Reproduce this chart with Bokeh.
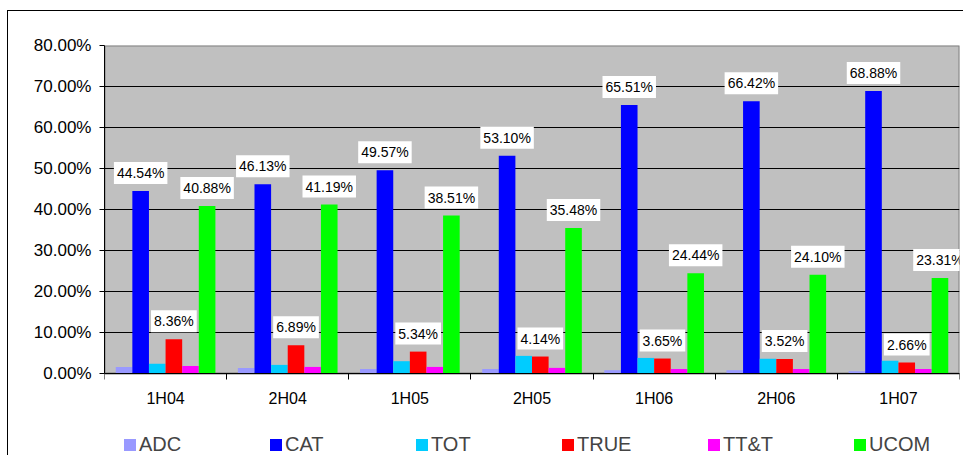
from bokeh.plotting import figure
from bokeh.models import (FixedTicker, PrintfTickFormatter, Legend, LegendItem,
                          ColumnDataSource, Range1d, BoxAnnotation)
from bokeh.transform import dodge
from bokeh.core.properties import value
from bokeh.embed import file_html
from bokeh.resources import INLINE

periods = ["1H04", "2H04", "1H05", "2H05", "1H06", "2H06", "1H07"]
adc = [1.60, 1.37, 1.10, 1.10, 0.80, 0.80, 0.55]
cat = [44.54, 46.13, 49.57, 53.10, 65.51, 66.42, 68.88]
tot = [2.35, 2.10, 3.00, 4.30, 3.80, 3.60, 3.10]
true_ = [8.36, 6.89, 5.34, 4.14, 3.65, 3.52, 2.66]
ttt = [1.85, 1.60, 1.60, 1.37, 1.10, 1.10, 1.10]
ucom = [40.88, 41.19, 38.51, 35.48, 24.44, 24.10, 23.31]
series_names = ["ADC", "CAT", "TOT", "TRUE", "TT&T", "UCOM"]
series_values = [adc, cat, tot, true_, ttt, ucom]
colors = ["#9999FF", "#0000FF", "#00CCFF", "#FF0000", "#FF00FF", "#00FF00"]
labelled = ["CAT", "TRUE", "UCOM"]
y_ticks = [0, 10, 20, 30, 40, 50, 60, 70, 80]

FONT = "Liberation Sans"
W, H = 963, 455
Y_LOW = -20  # extra room below the zero line for category labels and legend

n = len(periods)
centers = [i + 0.5 for i in range(n)]
bounds = [float(i) for i in range(n + 1)]

data = {"x": centers}
for k, vals in enumerate(series_values):
    data[f"s{k}"] = vals
    data[f"l{k}"] = [f"{v:.2f}%" for v in vals]
src = ColumnDataSource(data)

outer_border = (":host::after { content: ''; position: absolute; left: 7px; top: 10px; "
                "right: 0px; bottom: 0px; border-left: 1px solid black; "
                "border-top: 1px solid black; pointer-events: none; z-index: 100; }")

p = figure(width=W, height=H, x_range=Range1d(0, n), y_range=Range1d(Y_LOW, y_ticks[-1]),
           output_backend="svg", toolbar_location=None,
           min_border_left=104, min_border_right=4, min_border_top=45, min_border_bottom=0,
           stylesheets=[outer_border])
p.background_fill_color = "white"
p.border_fill_color = "white"
p.outline_line_color = None

# grey plot area
area = BoxAnnotation(left=0, right=n, bottom=y_ticks[0], top=y_ticks[-1],
                     fill_color="#C0C0C0", fill_alpha=1.0,
                     line_color="#808080", line_alpha=1.0, line_width=2, level="image")
p.add_layout(area)

bw = 0.136
renderers = []
for k, name in enumerate(series_names):
    off = (k - (len(series_names) - 1) / 2) * bw
    r = p.vbar(x=dodge("x", off), top=f"s{k}", width=bw, bottom=0,
               fill_color=colors[k], line_color=None, source=src)
    renderers.append(r)

for k, name in enumerate(series_names):
    if name in labelled:
        off = (k - (len(series_names) - 1) / 2) * bw
        p.text(x=dodge("x", off), y=f"s{k}", text=f"l{k}", source=src,
               text_align="center", text_baseline="middle", y_offset=-18,
               text_font=value(FONT), text_font_size="14px", text_color="black",
               background_fill_color="white", padding=3)

# y axis
p.yaxis.ticker = FixedTicker(ticks=y_ticks, minor_ticks=[])
p.yaxis.bounds = (y_ticks[0], y_ticks[-1])
p.yaxis.formatter = PrintfTickFormatter(format="%.2f%%")
p.yaxis.major_label_text_font = FONT
p.yaxis.major_label_text_font_size = "17px"
p.yaxis.major_label_text_color = "black"
p.yaxis.major_tick_in = 0
p.yaxis.major_tick_out = 5
p.yaxis.major_tick_line_color = "black"
p.yaxis.axis_line_color = "black"
p.yaxis.major_label_standoff = 8

# x axis sits on the zero line
p.xaxis.fixed_location = 0
p.xaxis.ticker = FixedTicker(ticks=centers, minor_ticks=bounds)
p.xaxis.major_label_overrides = {c: lab for c, lab in zip(centers, periods)}
p.xaxis.major_tick_line_color = None
p.xaxis.major_tick_out = 6
p.xaxis.minor_tick_in = 0
p.xaxis.minor_tick_out = 6
p.xaxis.minor_tick_line_color = "black"
p.xaxis.axis_line_color = "black"
p.xaxis.major_label_text_font = FONT
p.xaxis.major_label_text_font_size = "16px"
p.xaxis.major_label_text_color = "black"
p.xaxis.major_label_standoff = 10

p.ygrid.ticker = FixedTicker(ticks=y_ticks, minor_ticks=[])
p.ygrid.grid_line_color = "black"
p.ygrid.grid_line_width = 1
p.ygrid.bounds = (0, n)
p.xgrid.visible = False

legend = Legend(items=[LegendItem(label=nm, renderers=[r]) for nm, r in zip(series_names, renderers)],
                orientation="horizontal", location=(18, -1), padding=0, margin=0, spacing=0,
                glyph_width=15, glyph_height=15, label_standoff=2, label_width=129,
                label_text_font=FONT, label_text_font_size="20px", label_height=20,
                border_line_color=None, background_fill_alpha=0)
p.add_layout(legend)

open("out.html", "w").write(file_html(p, INLINE))
